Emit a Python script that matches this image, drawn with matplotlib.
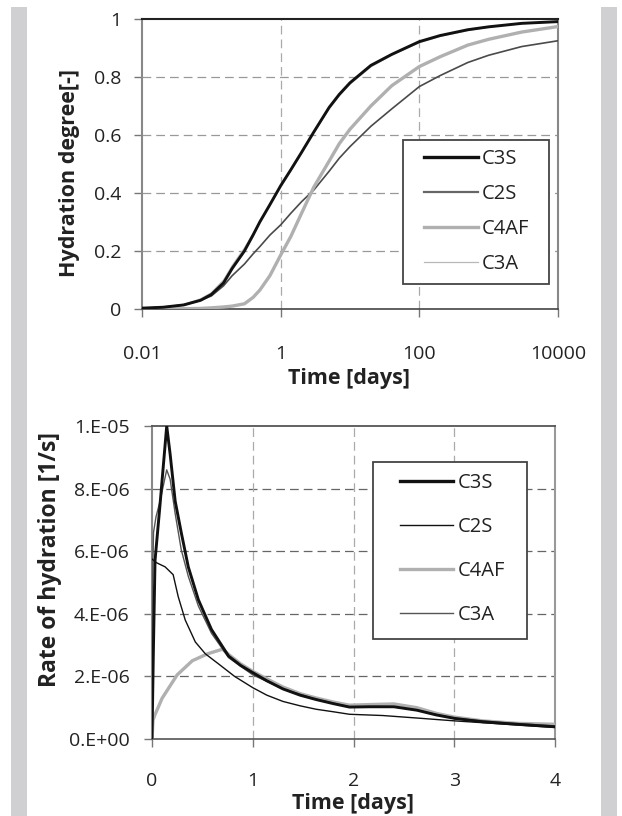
import matplotlib
matplotlib.use("Agg")
import matplotlib.pyplot as plt
from matplotlib.patches import Rectangle
from matplotlib.ticker import FixedLocator, FixedFormatter, NullLocator
import numpy as np

plt.rcParams['font.family'] = ['Open Sans', 'DejaVu Sans']

# ---------------- data: hydration degree ----------------
t_deg = [0.01, 0.02, 0.04, 0.07, 0.1, 0.15, 0.2, 0.3, 0.4, 0.5, 0.7, 1, 1.4, 2, 3, 5, 7,
         10, 20, 40, 100, 200, 500, 1000, 3000, 10000]
deg_C3S = [0.003, 0.006, 0.014, 0.03, 0.05, 0.09, 0.14, 0.20, 0.255, 0.30, 0.36, 0.425,
           0.48, 0.54, 0.61, 0.695, 0.74, 0.78, 0.84, 0.878, 0.922, 0.943, 0.963, 0.973,
           0.985, 0.991]
deg_C2S = [0.003, 0.006, 0.014, 0.03, 0.045, 0.08, 0.115, 0.155, 0.19, 0.215, 0.255, 0.29,
           0.33, 0.37, 0.41, 0.475, 0.52, 0.56, 0.63, 0.69, 0.767, 0.805, 0.85, 0.875,
           0.905, 0.925]
deg_C4AF = [0.0, 0.0, 0.001, 0.002, 0.004, 0.007, 0.01, 0.018, 0.04, 0.065, 0.115, 0.186,
            0.25, 0.33, 0.42, 0.51, 0.57, 0.62, 0.70, 0.77, 0.836, 0.87, 0.91, 0.93,
            0.955, 0.974]
deg_C3A = [0.003, 0.007, 0.016, 0.035, 0.056, 0.10, 0.15, 0.21, 0.26, 0.30, 0.36, 0.425,
           0.48, 0.54, 0.61, 0.69, 0.735, 0.775, 0.835, 0.875, 0.918, 0.94, 0.96, 0.972,
           0.984, 0.99]

deg_xticks = [0.01, 1, 100, 10000]
deg_xticklabels = ['0.01', '1', '100', '10000']
deg_yticks = [0, 0.2, 0.4, 0.6, 0.8, 1]
deg_yticklabels = ['0', '0.2', '0.4', '0.6', '0.8', '1']

# ---------------- data: rate of hydration (units of 1e-6 1/s) ----------------
t_C3S = [0, 0.013, 0.03, 0.08, 0.146, 0.18, 0.23, 0.29, 0.36, 0.46, 0.59, 0.76, 0.88,
         1.0, 1.14, 1.3, 1.47, 1.63, 1.8, 1.96, 2.16, 2.4, 2.63, 2.82, 3.0, 3.28, 3.62, 4.0]
r_C3S = [0, 2.7, 5.7, 7.5, 10.0, 9.1, 7.6, 6.6, 5.5, 4.45, 3.5, 2.65, 2.35, 2.12, 1.86,
         1.6, 1.4, 1.26, 1.13, 1.02, 1.03, 1.03, 0.92, 0.77, 0.66, 0.55, 0.47, 0.39]
t_C3A = [0, 0.005, 0.015, 0.04, 0.08, 0.146, 0.18, 0.23, 0.29, 0.36, 0.46, 0.59, 0.76,
         1.0, 1.3, 1.63, 1.96, 2.4, 2.63, 3.0, 3.5, 4.0]
r_C3A = [0.3, 5.0, 6.6, 7.1, 7.6, 8.6, 8.3, 7.2, 6.05, 5.2, 4.25, 3.38, 2.6, 2.05, 1.6,
         1.27, 1.03, 1.03, 0.92, 0.66, 0.52, 0.42]
t_C2S = [0, 0.046, 0.13, 0.21, 0.26, 0.33, 0.43, 0.53, 0.66, 0.82, 1.0, 1.14, 1.3, 1.47,
         1.63, 1.8, 1.96, 2.29, 2.63, 3.0, 3.62, 4.0]
r_C2S = [5.75, 5.63, 5.5, 5.25, 4.55, 3.8, 3.1, 2.72, 2.4, 2.0, 1.64, 1.4, 1.2, 1.06,
         0.95, 0.87, 0.79, 0.75, 0.67, 0.58, 0.45, 0.37]
t_C4AF = [0, 0.01, 0.03, 0.06, 0.1, 0.16, 0.25, 0.4, 0.55, 0.7, 0.76, 0.88, 1.0, 1.14,
          1.3, 1.47, 1.63, 1.8, 1.96, 2.16, 2.4, 2.63, 2.82, 3.0, 3.28, 3.62, 4.0]
r_C4AF = [0, 0.6, 0.78, 1.0, 1.3, 1.6, 2.05, 2.5, 2.72, 2.87, 2.7, 2.4, 2.16, 1.92, 1.66,
          1.45, 1.31, 1.18, 1.08, 1.1, 1.12, 1.0, 0.82, 0.7, 0.58, 0.5, 0.47]

rate_xticks = [0, 1, 2, 3, 4]
rate_xticklabels = ['0', '1', '2', '3', '4']
rate_yticks = [0, 2e-6, 4e-6, 6e-6, 8e-6, 1e-5]
rate_yticklabels = ['0.E+00', '2.E-06', '4.E-06', '6.E-06', '8.E-06', '1.E-05']

labels = ['C3S', 'C2S', 'C4AF', 'C3A']

# ---------------- figure ----------------
W, H = 622, 816
fig = plt.figure(figsize=(W / 100, H / 100), dpi=100)
fig.patch.set_facecolor('white')

strip_col = '#d0d0d2'
fig.patches.append(Rectangle((11 / W, 0), 16 / W, 1 - 7 / H, transform=fig.transFigure,
                             facecolor=strip_col, edgecolor='none', zorder=0))
fig.patches.append(Rectangle((601 / W, 0), 16 / W, 1 - 7 / H, transform=fig.transFigure,
                             facecolor=strip_col, edgecolor='none', zorder=0))

def px_axes(l, t, r, b):
    return fig.add_axes([l / W, 1 - b / H, (r - l) / W, (b - t) / H])

tick_fs = 14
lab_fs = 15.5
leg_fs = 14.5
txt_col = '#222222'

# ---- top axes ----
ax1 = px_axes(142, 19, 558, 309)
ax1.plot(t_deg, deg_C3A, color='#b8b8b8', lw=0.9, zorder=3)
ax1.plot(t_deg, deg_C2S, color='#4a4a4a', lw=1.2, zorder=4)
ax1.plot(t_deg, deg_C4AF, color='#b0b0b0', lw=2.4, zorder=4)
ax1.plot(t_deg, deg_C3S, color='#111111', lw=2.1, zorder=5)
ax1.set_xscale('log')
ax1.set_xlim(0.01, 10000)
ax1.set_ylim(0, 1)
ax1.xaxis.set_major_locator(FixedLocator(deg_xticks))
ax1.xaxis.set_major_formatter(FixedFormatter(deg_xticklabels))
ax1.xaxis.set_minor_locator(NullLocator())
ax1.yaxis.set_major_locator(FixedLocator(deg_yticks))
ax1.yaxis.set_major_formatter(FixedFormatter(deg_yticklabels))
for yv in deg_yticks[1:-1]:
    ax1.axhline(yv, color='#999999', lw=0.9, ls=(0, (7, 4)), zorder=1)
for xv in [1, 100]:
    ax1.axvline(xv, color='#aaaaaa', lw=0.9, ls=(0, (7, 4)), zorder=1)
ax1.tick_params(axis='x', direction='out', length=6, width=1, color='#777777',
                pad=20, labelsize=tick_fs, labelcolor=txt_col)
ax1.tick_params(axis='y', direction='out', length=6, width=1, color='#777777',
                pad=9, labelsize=tick_fs, labelcolor=txt_col)
ax1.spines['top'].set_color('#222222'); ax1.spines['top'].set_linewidth(1.5)
ax1.spines['bottom'].set_color('#444444'); ax1.spines['bottom'].set_linewidth(1.2)
ax1.spines['left'].set_color('#888888'); ax1.spines['left'].set_linewidth(1.5)
ax1.spines['right'].set_color('#888888'); ax1.spines['right'].set_linewidth(1.5)
ax1.set_xlabel('Time [days]', fontsize=lab_fs, fontweight='bold', color=txt_col)
ax1.set_ylabel('Hydration degree[-]', fontsize=lab_fs, fontweight='bold', color=txt_col)
ax1.xaxis.set_label_coords(0.497, -0.238)
ax1.xaxis.label.set_va('center')
ax1.yaxis.set_label_coords(-0.175, 0.47)
ax1.yaxis.label.set_va('center')

h1 = [plt.Line2D([], [], color='#111111', lw=2.4),
      plt.Line2D([], [], color='#666666', lw=1.6),
      plt.Line2D([], [], color='#b0b0b0', lw=2.4),
      plt.Line2D([], [], color='#b8b8b8', lw=0.9)]
ax1.add_patch(Rectangle((0.627, 0.086), 0.351, 0.497, transform=ax1.transAxes,
                        facecolor='white', edgecolor='#444444', lw=1.3, zorder=6))
leg1 = ax1.legend(h1, labels, loc='upper left', bbox_to_anchor=(0.678, 0.552),
                  frameon=False, borderpad=0, borderaxespad=0, fontsize=leg_fs,
                  handlelength=2.69, handletextpad=0.2, labelspacing=0.75)
leg1.set_zorder(7)
for tx in leg1.get_texts():
    tx.set_color(txt_col)

# ---- bottom axes ----
ax2 = px_axes(152, 426, 555, 739)
ax2.plot(t_C3A, np.array(r_C3A) * 1e-6, color='#555555', lw=1.0, zorder=4)
ax2.plot(t_C2S, np.array(r_C2S) * 1e-6, color='#111111', lw=1.0, zorder=4)
ax2.plot(t_C4AF, np.array(r_C4AF) * 1e-6, color='#b0b0b0', lw=2.4, zorder=3)
ax2.plot(t_C3S, np.array(r_C3S) * 1e-6, color='#111111', lw=2.1, zorder=5)
ax2.set_xlim(0, 4)
ax2.set_ylim(0, 1e-5)
ax2.xaxis.set_major_locator(FixedLocator(rate_xticks))
ax2.xaxis.set_major_formatter(FixedFormatter(rate_xticklabels))
ax2.yaxis.set_major_locator(FixedLocator(rate_yticks))
ax2.yaxis.set_major_formatter(FixedFormatter(rate_yticklabels))
for yv in rate_yticks[1:-1]:
    ax2.axhline(yv, color='#666666', lw=0.9, ls=(0, (7, 4)), zorder=1)
for xv in rate_xticks[1:-1]:
    ax2.axvline(xv, color='#aaaaaa', lw=0.9, ls=(0, (7, 4)), zorder=1)
ax2.tick_params(axis='x', direction='out', length=6, width=1, color='#777777',
                pad=18, labelsize=tick_fs, labelcolor=txt_col)
ax2.tick_params(axis='y', direction='out', length=6, width=1, color='#777777',
                pad=10, labelsize=tick_fs, labelcolor=txt_col)
ax2.spines['top'].set_color('#555555'); ax2.spines['top'].set_linewidth(1.3)
ax2.spines['bottom'].set_color('#555555'); ax2.spines['bottom'].set_linewidth(1.2)
ax2.spines['left'].set_color('#888888'); ax2.spines['left'].set_linewidth(1.5)
ax2.spines['right'].set_color('#999999'); ax2.spines['right'].set_linewidth(1.5)
ax2.set_xlabel('Time [days]', fontsize=lab_fs, fontweight='bold', color=txt_col)
ax2.set_ylabel('Rate of hydration [1/s]', fontsize=16.5, fontweight='bold', color=txt_col)
ax2.xaxis.set_label_coords(0.499, -0.205)
ax2.xaxis.label.set_va('center')
ax2.yaxis.set_label_coords(-0.253, 0.572)
ax2.yaxis.label.set_va('center')

h2 = [plt.Line2D([], [], color='#111111', lw=2.4),
      plt.Line2D([], [], color='#111111', lw=1.0),
      plt.Line2D([], [], color='#b0b0b0', lw=2.4),
      plt.Line2D([], [], color='#555555', lw=1.0)]
ax2.add_patch(Rectangle((0.548, 0.319), 0.382, 0.565, transform=ax2.transAxes,
                        facecolor='white', edgecolor='#444444', lw=1.3, zorder=6))
leg2 = ax2.legend(h2, labels, loc='upper left', bbox_to_anchor=(0.615, 0.850),
                  frameon=False, borderpad=0, borderaxespad=0, fontsize=leg_fs,
                  handlelength=2.64, handletextpad=0.25, labelspacing=1.2)
leg2.set_zorder(7)
for tx in leg2.get_texts():
    tx.set_color(txt_col)

fig.savefig('out.png', dpi=100)
